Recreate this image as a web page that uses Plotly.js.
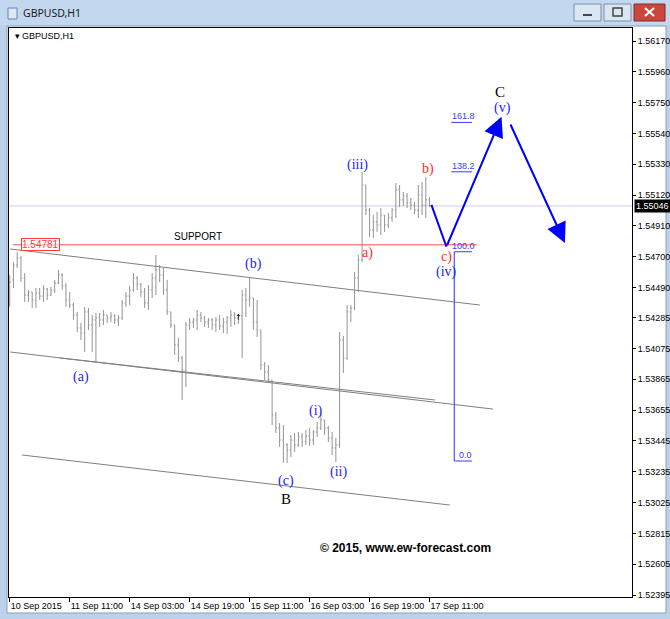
<!DOCTYPE html>
<html>
<head>
<meta charset="utf-8">
<script src="https://cdn.plot.ly/plotly-3.0.1.min.js"></script>
<style>html,body{margin:0;padding:0;background:#bcd2ea;}#chart{width:670px;height:619px;}</style>
</head>
<body>
<div id="chart"></div>
<script>
// ---- DATA ----
const timeLabels = ["10 Sep 2015","11 Sep 11:00","14 Sep 03:00","14 Sep 19:00","15 Sep 11:00","16 Sep 03:00","16 Sep 19:00","17 Sep 11:00"];
const timeLabelBars = [0,16,32,48,64,80,96,112];

const open = [1.54405,1.54542,1.54644,1.54691,1.54555,1.54439,1.54460,1.54405,1.54453,1.54432,
1.54480,1.54439,1.54473,1.54521,1.54576,1.54501,1.54405,1.54371,1.54303,1.54214,
1.54180,1.54324,1.54235,1.54269,1.54283,1.54269,1.54303,1.54283,1.54296,1.54269,
1.54283,1.54385,1.54432,1.54473,1.54555,1.54514,1.54460,1.54385,1.54473,1.54555,
1.54610,1.54576,1.54473,1.54324,1.54235,1.54099,1.54010,1.53928,1.54235,1.54255,
1.54269,1.54303,1.54283,1.54255,1.54269,1.54235,1.54269,1.54228,1.54255,1.54283,
1.54303,1.54283,1.54296,1.54439,1.54405,1.54419,1.54255,1.54201,1.53962,1.53915,
1.53860,1.53622,1.53533,1.53451,1.53417,1.53383,1.53451,1.53417,1.53472,1.53438,
1.53479,1.53451,1.53506,1.53533,1.53588,1.53533,1.53465,1.53397,1.53417,1.54133,
1.54010,1.54324,1.54351,1.54555,1.54678,1.55189,1.55018,1.54882,1.54937,1.54916,
1.54984,1.54916,1.54964,1.55018,1.55155,1.55087,1.55114,1.55066,1.55053,1.55018,
1.55121,1.55053,1.55087];
const high = [1.54576,1.54664,1.54732,1.54705,1.54589,1.54473,1.54460,1.54487,1.54487,1.54507,
1.54487,1.54494,1.54542,1.54610,1.54589,1.54521,1.54460,1.54385,1.54324,1.54249,
1.54358,1.54351,1.54303,1.54317,1.54317,1.54337,1.54303,1.54324,1.54310,1.54303,
1.54405,1.54460,1.54501,1.54589,1.54569,1.54521,1.54487,1.54507,1.54589,1.54712,
1.54644,1.54623,1.54542,1.54324,1.54235,1.54146,1.54024,1.54255,1.54283,1.54283,
1.54337,1.54324,1.54296,1.54283,1.54283,1.54289,1.54303,1.54283,1.54296,1.54337,
1.54324,1.54310,1.54473,1.54487,1.54562,1.54419,1.54405,1.54201,1.53983,1.53962,
1.53860,1.53642,1.53567,1.53553,1.53431,1.53485,1.53499,1.53506,1.53499,1.53519,
1.53533,1.53519,1.53574,1.53635,1.53588,1.53547,1.53506,1.53465,1.54187,1.54160,
1.54371,1.54371,1.54596,1.54712,1.55277,1.55189,1.55032,1.54984,1.55005,1.55032,
1.54984,1.54998,1.55032,1.55202,1.55189,1.55141,1.55134,1.55100,1.55073,1.55189,
1.55209,1.55243,1.55107];
const low = [1.54358,1.54487,1.54623,1.54528,1.54392,1.54392,1.54351,1.54351,1.54405,1.54392,
1.54405,1.54432,1.54453,1.54514,1.54473,1.54358,1.54351,1.54269,1.54187,1.54133,
1.54051,1.54201,1.54051,1.53983,1.54221,1.54235,1.54249,1.54255,1.54242,1.54228,
1.54269,1.54358,1.54371,1.54460,1.54473,1.54426,1.54351,1.54337,1.54419,1.54439,
1.54528,1.54439,1.54303,1.54214,1.54030,1.53983,1.53724,1.53812,1.54201,1.54214,
1.54201,1.54255,1.54221,1.54214,1.54201,1.54187,1.54201,1.54180,1.54174,1.54221,
1.54235,1.54242,1.54010,1.54289,1.54358,1.54201,1.54153,1.53928,1.53860,1.53840,
1.53553,1.53499,1.53404,1.53295,1.53295,1.53335,1.53370,1.53404,1.53404,1.53417,
1.53410,1.53417,1.53472,1.53519,1.53485,1.53438,1.53349,1.53301,1.53397,1.53908,
1.53996,1.54255,1.54337,1.54460,1.54664,1.54984,1.54834,1.54828,1.54869,1.54848,
1.54869,1.54896,1.54937,1.54964,1.55039,1.55046,1.55032,1.55018,1.54991,1.54964,
1.54984,1.54964,1.55039];
const close = [1.54528,1.54644,1.54691,1.54555,1.54439,1.54460,1.54405,1.54453,1.54432,1.54480,
1.54439,1.54473,1.54521,1.54576,1.54501,1.54405,1.54371,1.54303,1.54214,1.54180,
1.54324,1.54235,1.54269,1.54283,1.54269,1.54303,1.54283,1.54296,1.54269,1.54283,
1.54385,1.54432,1.54473,1.54555,1.54514,1.54460,1.54385,1.54473,1.54555,1.54610,
1.54576,1.54473,1.54324,1.54235,1.54099,1.54010,1.53928,1.54235,1.54255,1.54269,
1.54303,1.54283,1.54255,1.54269,1.54235,1.54269,1.54228,1.54255,1.54283,1.54303,
1.54283,1.54296,1.54439,1.54405,1.54419,1.54255,1.54201,1.53962,1.53915,1.53860,
1.53622,1.53533,1.53451,1.53417,1.53383,1.53451,1.53417,1.53472,1.53438,1.53479,
1.53451,1.53506,1.53533,1.53588,1.53533,1.53465,1.53397,1.53417,1.54133,1.54010,
1.54324,1.54351,1.54555,1.54678,1.55189,1.55018,1.54882,1.54937,1.54916,1.54984,
1.54916,1.54964,1.55018,1.55155,1.55087,1.55114,1.55066,1.55053,1.55018,1.55121,
1.55053,1.55087,1.55046];

const priceTicks = [1.56170,1.55960,1.55750,1.55540,1.55330,1.55120,1.54910,1.54700,1.54490,1.54285,
1.54075,1.53865,1.53655,1.53445,1.53235,1.53025,1.52815,1.52605,1.52395];
const currentPrice = 1.55046;
const supportPrice = 1.54781;
const supportLabel = "1.54781";

// channel lines: start bar, start price, end bar, end price
const channelStartBar   = [0.1, 0.1, 13.4, 3.3];
const channelStartPrice = [1.54753, 1.54051, 1.54010, 1.53349];
const channelEndBar     = [125.4, 128.9, 113.4, 117.4];
const channelEndPrice   = [1.54371, 1.53662, 1.53724, 1.53008];

// wave labels
const waveText  = ["(a)","(b)","(c)","B","(i)","(ii)","(iii)","a)","b)","c)","(iv)","(v)","C"];
const waveBar   = [19.0, 64.9, 73.7, 73.7, 81.7, 87.8, 92.7, 95.5, 111.5, 116.6, 116.6, 131.5, 130.7];
const wavePrice = [1.53880,1.54651,1.53172,1.53049,1.53649,1.53233,1.55325,1.54726,1.55298,1.54698,1.54596,1.55714,1.55823];
const waveKind  = ["wave","wave","wave","major","wave","wave","wave","sub","sub","sub","wave","wave","major"];

// fibonacci expansion
const fibLevels = [0.0, 100.0, 138.2, 161.8];
const fibZeroPrice = 1.53308;
const fibHundredPrice = 1.54734;
const fibStartBar = 118.6, fibEndBar = 123.3;

// projected path
const projBars   = [112.5, 116.5, 131.2];
const projPrices = [1.55053, 1.54768, 1.55654];
const proj2Bars   = [133.4, 148.1];
const proj2Prices = [1.55611, 1.54794];

// ---- LAYOUT HELPERS ----
const L = 9, R = 632, T = 28, B = 597;
const px = x => (x - L) / (R - L);
const py = y => (B - y) / (B - T);

const bars = open.map((_, i) => i);

const trace = {
  type: 'ohlc', x: bars, open: open, high: high, low: low, close: close,
  increasing: {line: {color: '#949494', width: 1}},
  decreasing: {line: {color: '#949494', width: 1}},
  tickwidth: 0.3, hoverinfo: 'skip', showlegend: false
};

const shapes = [];
// window chrome
shapes.push({type:'rect', xref:'paper', yref:'paper', x0:px(0), x1:px(670), y0:py(25), y1:py(0), fillcolor:'#c3d7ee', line:{width:0}, layer:'below'});
shapes.push({type:'rect', xref:'paper', yref:'paper', x0:px(7), x1:px(666), y0:py(613), y1:py(26), fillcolor:'#ffffff', line:{color:'#8aa0b8', width:1}, layer:'below'});
// title icon
shapes.push({type:'rect', xref:'paper', yref:'paper', x0:px(8), x1:px(17), y0:py(19), y1:py(8), fillcolor:'#dfe9f5', line:{color:'#5f86b8', width:1}, layer:'below'});
// window buttons
shapes.push({type:'rect', xref:'paper', yref:'paper', x0:px(574), x1:px(601), y0:py(21), y1:py(4), fillcolor:'#dbe6f3', line:{color:'#7b8fa8', width:1}, layer:'below'});
shapes.push({type:'rect', xref:'paper', yref:'paper', x0:px(583), x1:px(592), y0:py(16), y1:py(14), fillcolor:'#444', line:{width:0}, layer:'below'});
shapes.push({type:'rect', xref:'paper', yref:'paper', x0:px(604), x1:px(631), y0:py(21), y1:py(4), fillcolor:'#dbe6f3', line:{color:'#7b8fa8', width:1}, layer:'below'});
shapes.push({type:'rect', xref:'paper', yref:'paper', x0:px(613), x1:px(622), y0:py(16), y1:py(8), fillcolor:'rgba(0,0,0,0)', line:{color:'#444', width:1.5}, layer:'below'});
shapes.push({type:'rect', xref:'paper', yref:'paper', x0:px(634), x1:px(665), y0:py(21), y1:py(4), fillcolor:'#c9473d', line:{color:'#8a2b25', width:1}, layer:'below'});
shapes.push({type:'line', xref:'paper', yref:'paper', x0:px(645), x1:px(654), y0:py(16), y1:py(8), line:{color:'#fff', width:2}, layer:'below'});
shapes.push({type:'line', xref:'paper', yref:'paper', x0:px(645), x1:px(654), y0:py(8), y1:py(16), line:{color:'#fff', width:2}, layer:'below'});

// current price line
shapes.push({type:'line', xref:'paper', yref:'y', x0:0, x1:1, y0:currentPrice, y1:currentPrice, line:{color:'#cdcdeb', width:1}, layer:'below'});
// channel lines
for (let k = 0; k < channelStartBar.length; k++) {
  shapes.push({type:'line', xref:'x', yref:'y', x0:channelStartBar[k], y0:channelStartPrice[k], x1:channelEndBar[k], y1:channelEndPrice[k], line:{color:'#7f7f7f', width:1}});
}
// support line
shapes.push({type:'line', xref:'x', yref:'y', x0:0.9, x1:124.6, y0:supportPrice, y1:supportPrice, line:{color:'#ff4c4c', width:1}});
// fibonacci
const fibPrice = lv => fibZeroPrice + (fibHundredPrice - fibZeroPrice) * lv / 100;
shapes.push({type:'line', xref:'x', yref:'y', x0:fibStartBar, x1:fibStartBar, y0:fibPrice(0), y1:fibPrice(100), line:{color:'#5a5aff', width:1.3}});
fibLevels.forEach(lv => {
  shapes.push({type:'line', xref:'x', yref:'y', x0:fibStartBar - (lv > 100 ? 0.8 : 0), x1:fibEndBar, y0:fibPrice(lv), y1:fibPrice(lv), line:{color:'#3a3aff', width:1}});
});
// projected first leg
shapes.push({type:'line', xref:'x', yref:'y', x0:projBars[0], y0:projPrices[0], x1:projBars[1], y1:projPrices[1], line:{color:'#0000ff', width:2}});

const annotations = [];
// window title
annotations.push({xref:'paper', yref:'paper', x:px(21), y:py(13), xanchor:'left', yanchor:'middle', text:'GBPUSD,H1', showarrow:false, font:{family:'Noto Sans, Liberation Sans', size:10.5, color:'#1a1a1a'}});
// chart inner label
annotations.push({xref:'paper', yref:'paper', x:px(13), y:py(36), xanchor:'left', yanchor:'middle', text:'▾ GBPUSD,H1', showarrow:false, font:{family:'Liberation Sans, DejaVu Sans', size:9, color:'#000'}});
// current price label
annotations.push({xref:'paper', yref:'y', x:1, y:currentPrice, xanchor:'left', yanchor:'middle', xshift:2, text:currentPrice.toFixed(5), showarrow:false, bgcolor:'#000', borderpad:1, font:{family:'Liberation Sans', size:9, color:'#fff'}});
// support label + text
annotations.push({xref:'x', yref:'y', x:8.3, y:supportPrice, xanchor:'center', yanchor:'middle', text:supportLabel, showarrow:false, bgcolor:'rgba(255,255,255,0.6)', bordercolor:'#ff3b3b', borderwidth:1, borderpad:0, font:{family:'Liberation Sans', size:10, color:'#ff3b3b'}});
annotations.push({xref:'x', yref:'y', x:50.2, y:supportPrice, xanchor:'center', yanchor:'bottom', yshift:1, text:'SUPPORT', showarrow:false, font:{family:'Liberation Sans', size:10, color:'#000'}});
// wave labels
const waveColor = {wave:'#2323ff', major:'#000000', sub:'#ff2a2a'};
for (let k = 0; k < waveText.length; k++) {
  annotations.push({xref:'x', yref:'y', x:waveBar[k], y:wavePrice[k], text:waveText[k], showarrow:false, xanchor:'center', yanchor:'middle',
    font:{family:'Liberation Serif', size: waveKind[k] === 'major' ? 15 : 14, color: waveColor[waveKind[k]]}});
}
// fib level labels
fibLevels.forEach(lv => {
  annotations.push({xref:'x', yref:'y', x:(fibStartBar + fibEndBar) / 2 + (lv === 0 ? 0.6 : 0), y:fibPrice(lv), yanchor:'bottom', xanchor:'center', yshift:-1,
    text: lv.toFixed(1), showarrow:false, font:{family:'Liberation Sans', size:9, color:'#3a3aff'}});
});
// projected arrows
annotations.push({xref:'x', yref:'y', axref:'x', ayref:'y', x:projBars[2], y:projPrices[2], ax:projBars[1], ay:projPrices[1], text:'', showarrow:true, arrowhead:2, arrowsize:2, arrowwidth:2, arrowcolor:'#0000ff'});
annotations.push({xref:'x', yref:'y', axref:'x', ayref:'y', x:proj2Bars[1], y:proj2Prices[1], ax:proj2Bars[0], ay:proj2Prices[0], text:'', showarrow:true, arrowhead:2, arrowsize:2, arrowwidth:2, arrowcolor:'#0000ff'});
// small arrow marker
annotations.push({xref:'x', yref:'y', x:60.9, y:1.54283, text:'↑', showarrow:false, font:{family:'DejaVu Sans', size:8, color:'#000'}});
// copyright
annotations.push({xref:'x', yref:'y', x:105.7, y:1.52715, text:'© 2015, www.ew-forecast.com', showarrow:false, font:{family:'Liberation Sans', size:12, color:'#000', weight:'bold'}});

const layout = {
  width: 670, height: 619, autosize: false,
  margin: {l: L, r: 670 - R, t: T, b: 619 - B, pad: 0},
  paper_bgcolor: '#bcd2ea', plot_bgcolor: '#ffffff',
  showlegend: false, dragmode: false,
  xaxis: {
    range: [-0.19, 166.0], tickvals: timeLabelBars, ticktext: timeLabels,
    ticks: 'outside', ticklen: 4, tickcolor: '#000', tickwidth: 1, tickangle: 0,
    ticklabelposition: 'outside right', automargin: false,
    showline: true, mirror: true, linecolor: '#000', linewidth: 1,
    showgrid: false, zeroline: false, rangeslider: {visible: false}, fixedrange: true,
    tickfont: {family: 'Liberation Sans', size: 9, color: '#000'}
  },
  yaxis: {
    side: 'right', range: [1.523814, 1.562586], automargin: false,
    tickvals: priceTicks, ticktext: priceTicks.map(v => v.toFixed(5)),
    ticks: 'outside', ticklen: 3, tickcolor: '#000',
    showline: true, mirror: true, linecolor: '#000', linewidth: 1,
    showgrid: false, zeroline: false, fixedrange: true,
    tickfont: {family: 'Liberation Sans', size: 9, color: '#000'}
  },
  shapes: shapes,
  annotations: annotations
};

Plotly.newPlot('chart', [trace], layout, {displayModeBar: false, staticPlot: true});
</script>
</body>
</html>
